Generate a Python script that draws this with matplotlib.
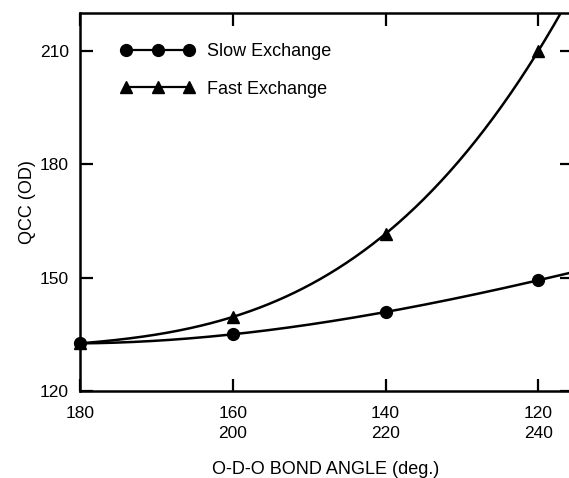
import numpy as np
import matplotlib
matplotlib.use("Agg")
import matplotlib.pyplot as plt
from matplotlib.lines import Line2D

plt.rcParams['font.family'] = ['Liberation Sans', 'DejaVu Sans']

# Data (O-D-O bond angle, QCC)
angles = [180, 160, 140, 120]
slow_qcc = [132.6, 135.0, 140.9, 149.3]
fast_qcc = [132.6, 139.6, 161.6, 210.0]
xtick_vals = [180, 160, 140, 120]
xtick_labels = ['180', '160\n200', '140\n220', '120\n240']
ytick_vals = [120, 150, 180, 210]

fig = plt.figure(figsize=(5.69, 4.78), dpi=100)
ax = fig.add_axes([80/569, 87/478, 492/569, 378/478])

xmin, xmax = 180, 115.6
grid = np.linspace(xmin, xmax, 400)

for vals, marker in [(slow_qcc, 'o'), (fast_qcc, '^')]:
    coef = np.polyfit(angles, vals, 3)
    ax.plot(grid, np.polyval(coef, grid), color='black', lw=1.8, clip_on=True)
    ax.plot(angles, vals, linestyle='none', marker=marker, color='black',
            markersize=8.5, clip_on=False, zorder=3)

ax.set_xlim(xmin, xmax)
ax.set_ylim(120, 220)
ax.set_xticks(xtick_vals)
ax.set_xticklabels(xtick_labels, linespacing=1.4)
ax.set_yticks(ytick_vals)

ax.tick_params(direction='in', length=9, width=1.6, labelsize=12.5,
               top=True, right=True, colors='black')
ax.tick_params(axis='x', pad=11)
ax.tick_params(axis='y', pad=8)
for s in ax.spines.values():
    s.set_linewidth(1.8)

ax.set_xlabel('O-D-O BOND ANGLE (deg.)', fontsize=13, labelpad=14)
ax.set_ylabel('QCC (OD)', fontsize=13, labelpad=3)

handles = [Line2D([], [], color='black', lw=1.6, marker='o', markersize=8.5),
           Line2D([], [], color='black', lw=1.6, marker='^', markersize=8.5)]
leg = ax.legend(handles, ['Slow Exchange', 'Fast Exchange'], loc='upper left',
                bbox_to_anchor=(0.068, 0.94), frameon=False, numpoints=3,
                handlelength=4.1, handletextpad=0.7, labelspacing=1.15,
                fontsize=13, borderaxespad=0)

fig.savefig('out.png', dpi=100)
